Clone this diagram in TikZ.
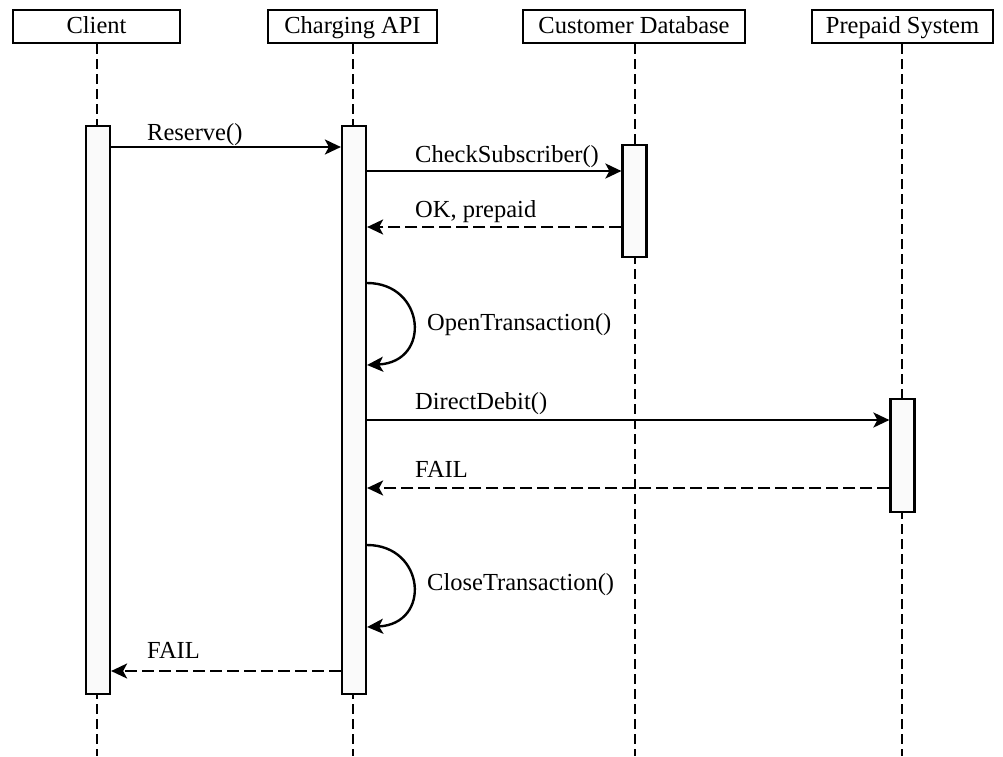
\documentclass[tikz,border=0pt]{standalone}
\usepackage{fontspec}
\setmainfont{Liberation Serif}
\usetikzlibrary{arrows.meta}
\definecolor{actfill}{HTML}{FAFAFA}
\begin{document}
\begin{tikzpicture}[x=1pt,y=-1pt,
  every node/.style={font=\fontsize{24.5}{29}\selectfont, inner sep=0pt},
  header/.style={draw, line width=2.2pt, minimum height=33pt, text height=18pt, text depth=4pt, anchor=center},
  lifeline/.style={line width=2.4pt, dash pattern=on 10pt off 5pt},
  actbox/.style={draw, line width=2.2pt, fill=actfill, minimum width=24pt, anchor=north},
  msg/.style={line width=2.4pt, -{Stealth[length=16pt,width=15pt,inset=4pt]}},
  reply/.style={msg, dash pattern=on 12pt off 5pt},
  lbl/.style={anchor=base west}
]
\useasboundingbox (0,0) rectangle (1003,756);

% headers
\node[header, minimum width=167pt] (hA) at (96.5,26.5) {Client};
\node[header, minimum width=169pt] (hB) at (352.5,26.5) {Charging API};
\node[header, minimum width=222pt] (hC) at (634,26.5) {Customer Database};
\node[header, minimum width=181pt] (hD) at (902.5,26.5) {Prepaid System};

% lifeline ends
\coordinate (eA) at (97,756);
\coordinate (eB) at (353,756);
\coordinate (eC) at (635,756);
\coordinate (eD) at (902,756);
\draw[lifeline] (hA.south -| eA) -- (eA);
\draw[lifeline] (hB.south -| eB) -- (eB);
\draw[lifeline] (hC.south -| eC) -- (eC);
\draw[lifeline] (hD.south -| eD) -- (eD);

% activation boxes
\node[actbox, minimum height=568pt] (aA) at (98,124.5) {};
\node[actbox, minimum height=568pt] (aB) at (354,124.5) {};
\node[actbox, minimum height=112pt] (aC) at (634.5,143.5) {};
\node[actbox, minimum height=113pt] (aD) at (902.5,397.5) {};

% messages
\draw[msg] (aA.east |- 0,147) -- (aB.west |- 0,147);
\node[lbl] (l1) at (147,140) {Reserve()};

\draw[msg] (aB.east |- 0,171) -- (aC.west |- 0,171);
\node[lbl] (l2) at (415,162) {CheckSubscriber()};

\draw[reply] (aC.west |- 0,227) -- (aB.east |- 0,227);
\node[lbl] (l3) at (415,217) {OK, prepaid};

\draw[msg] (aB.east |- 0,283) .. controls (425,283) and (432,362) .. (aB.east |- 0,365);
\node[lbl] (l4) at (427,330) {OpenTransaction()};

\draw[msg] (aB.east |- 0,420) -- (aD.west |- 0,420);
\node[lbl] (l5) at (415,409) {DirectDebit()};

\draw[reply] (aD.west |- 0,488) -- (aB.east |- 0,488);
\node[lbl] (l6) at (415,477) {FAIL};

\draw[msg] (aB.east |- 0,545) .. controls (425,545) and (432,624) .. (aB.east |- 0,627);
\node[lbl] (l7) at (427,590) {CloseTransaction()};

\draw[reply] (aB.west |- 0,671) -- (aA.east |- 0,671);
\node[lbl] (l8) at (147,658) {FAIL};
\end{tikzpicture}
\end{document}
